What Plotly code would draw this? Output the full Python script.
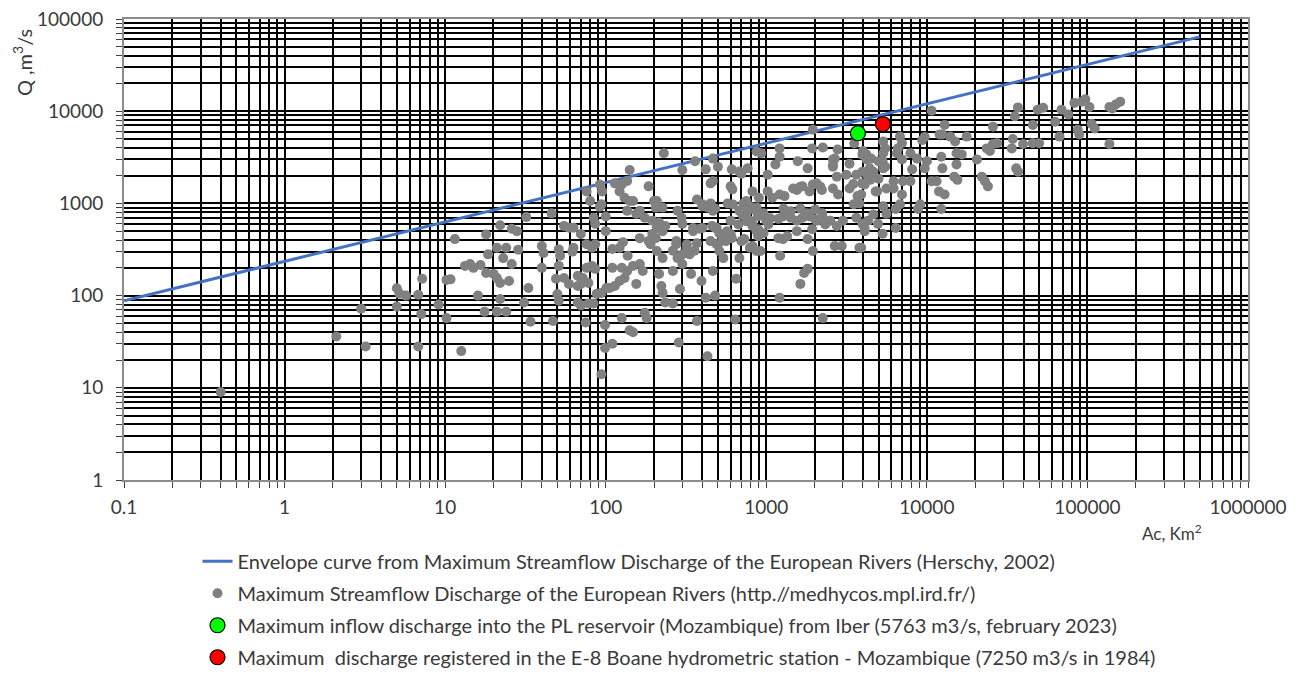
import plotly.graph_objects as go

# ---------------- data ----------------
# Envelope curve (Herschy, 2002): catchment area (km2) -> discharge (m3/s)
envelope_area = [0.1, 500000]
envelope_q = [88, 64000]

# Maximum streamflow discharge of the European rivers, (area km2, Q m3/s)
eu_below_10 = [
    (0.4, 9), (2.1, 36), (3.0, 72), (3.2, 28), (5.0, 120), (5.2, 105), (5.7, 100), (5.0, 76),
    (6.8, 102), (7.2, 152), (7.1, 63), (6.8, 28), (9.1, 80), (10.2, 148), (10.2, 57), (10.8, 150),
]
eu_10_100 = [
    (11.5, 410), (12.6, 25), (13.3, 210), (14.3, 220), (15, 200), (16.6, 215), (18, 460), (22, 580),
    (26, 530), (28, 500), (32, 710), (18.5, 280), (21, 330), (24, 330), (23, 255), (26, 220),
    (28.5, 315), (18, 176), (20, 172), (21, 155), (22, 137), (25, 144), (33, 121), (16, 100),
    (22, 92), (17.6, 67), (21, 67), (24, 67), (31, 84), (34, 52), (40, 345), (41, 290),
    (46, 780), (40, 200), (47, 53), (50, 104), (51, 88), (51, 317), (52, 270), (51, 210),
    (49, 152), (55, 155), (59, 134), (55, 570), (59, 545), (63, 545), (63, 330), (67, 164),
    (67, 127), (70, 134), (67, 84), (70, 78), (70, 465), (75, 51), (76, 1350), (80, 1060),
    (76, 360), (82, 330), (86, 360), (76, 200), (82, 210), (86, 195), (72, 155), (78, 137),
    (78, 82), (84, 82), (84, 700), (86, 600), (92, 1600), (95, 1350), (94, 980), (88, 105),
    (94, 107), (101, 121), (100, 500), (99, 48), (94, 14), (99, 27), (110, 30), (62, 300),
    (92, 920), (100, 720),
]
eu_100_1000 = [
    (114, 1650), (126, 1600), (136, 1750), (141, 2300), (122, 1350), (131, 1150), (141, 1060),
    (148, 1060), (163, 830), (175, 700), (110, 320), (122, 330), (110, 200), (126, 200),
    (137, 270), (148, 210), (163, 220), (170, 185), (122, 144), (131, 155), (106, 121),
    (114, 127), (155, 134), (126, 57), (141, 42), (148, 40), (175, 65), (180, 57), (185, 1530),
    (195, 465), (205, 420), (200, 1060), (205, 900), (136, 830), (155, 770), (128, 380),
    (163, 420), (185, 390), (208, 540), (226, 500), (275, 390), (320, 330), (350, 500),
    (136, 185), (215, 172), (262, 185), (300, 220),
    (230, 3500), (300, 2300), (360, 2860), (465, 3060), (420, 2340), (500, 2500), (450, 1650),
    (465, 1740), (610, 2340), (680, 2220), (765, 2400), (600, 1530), (615, 1420), (870, 3650),
    (930, 3500), (820, 1350), (900, 1150), (750, 1060), (765, 830), (680, 830), (710, 750),
    (370, 1100), (400, 980), (435, 900), (465, 830), (208, 1060), (226, 900), (195, 650),
    (215, 620), (235, 570), (280, 830), (297, 700), (300, 600), (350, 540), (385, 530),
    (460, 570), (490, 545), (600, 650), (570, 500), (750, 720), (790, 650), (820, 600),
    (870, 900), (930, 770), (870, 500), (890, 440), (190, 360), (208, 305), (226, 255),
    (262, 306), (280, 255), (300, 280), (333, 280), (358, 306), (275, 360), (320, 360),
    (370, 370), (490, 360), (535, 420), (600, 465), (510, 305), (680, 255), (730, 410),
    (790, 330), (870, 305), (222, 127), (226, 107), (235, 84), (262, 82), (290, 118),
    (340, 172), (395, 144), (465, 185), (420, 95), (480, 100), (650, 152), (370, 53),
    (640, 55), (285, 31), (430, 22),
    (700, 2100), (400, 930), (450, 1000), (480, 880), (575, 1000), (620, 975), (720, 1000),
    (790, 930), (870, 820), (890, 725), (960, 780), (400, 540), (480, 540), (510, 475),
    (670, 590), (750, 640), (820, 570), (890, 525), (960, 475), (450, 390), (500, 360),
    (560, 390), (610, 420), (700, 390), (820, 345), (920, 305), (540, 255),
]
eu_1000_10000 = [
    (1210, 3950), (1210, 3200), (1140, 2650), (1020, 2050), (1570, 2860), (1810, 2400),
    (1950, 6300), (1930, 3950), (2250, 4040), (2670, 3060), (2780, 3850), (2600, 2500),
    (2750, 1950), (3300, 2700), (3530, 4470), (3970, 3380), (3640, 2050), (1020, 1350),
    (1090, 1150), (1210, 1250), (1300, 1200), (1550, 1400), (1680, 1530), (1860, 1350),
    (2060, 1650), (2220, 1400), (2600, 1450), (2800, 1250), (3300, 1450), (3700, 1200),
    (3500, 980), (3800, 1000), (1000, 650), (1190, 680), (1270, 720), (1420, 700),
    (1550, 650), (1680, 700), (1860, 720), (2060, 650), (2250, 700), (2500, 650), (2750, 570),
    (3000, 650), (3640, 700), (3970, 600), (4300, 650), (1190, 420), (1270, 410), (1550, 500),
    (1810, 410), (1950, 305), (2670, 345), (2950, 345), (3800, 330), (4100, 500), (1210, 95),
    (1630, 134), (1720, 176), (1810, 195), (2250, 57),
    (1470, 1450), (1630, 1520), (1950, 1600), (2170, 1520), (1060, 690), (1280, 880),
    (1420, 820), (1630, 880), (1800, 780), (2020, 860), (2230, 780), (1030, 590), (1350, 440),
    (1930, 525), (2020, 670), (2330, 590), (1220, 270),
    (2600, 3000), (2600, 2600), (3150, 2050), (4000, 3700), (4200, 3400), (4500, 3060),
    (4250, 2050), (4640, 2200), (3480, 1620), (3950, 1650), (4440, 1800), (5500, 3950),
    (5300, 2860), (5350, 2400), (4900, 1350), (5600, 1450),
    (9700, 5240), (9350, 4860), (9100, 980), (8800, 870), (9700, 2400), (10000, 2860),
    (8100, 2340), (7900, 3500), (8700, 3060), (6800, 5300), (7000, 4500), (6600, 3950),
    (6500, 3500), (7000, 3000), (6200, 1740), (7100, 1740), (7900, 1740), (6200, 1450),
    (7000, 1250), (6800, 980), (6400, 870), (5350, 4700), (5350, 3500), (5000, 2860),
    (5500, 2500), (5000, 1850), (4800, 1350), (5350, 930), (5600, 770), (4640, 760),
    (4960, 600), (5300, 470), (6400, 540), (4200, 3000), (4400, 2400), (3970, 2200),
    (4100, 1600), (3900, 1250), (4100, 530), (3900, 330),
]
eu_above_10000 = [
    (10700, 10100), (12900, 7100), (12500, 5600), (14000, 5300), (15000, 4700), (12000, 5600),
    (17700, 5300), (25800, 6800), (35300, 8800), (36900, 11000), (45700, 7100), (49000, 10400),
    (53000, 10900), (63000, 7700), (67000, 5300), (69000, 10400), (76000, 9200), (83000, 12300),
    (92000, 12700), (87000, 6300), (89000, 5600), (97000, 13500), (103000, 11100),
    (106000, 7300), (111000, 6500), (137000, 4400), (137000, 11100), (150000, 11800),
    (160000, 12700), (143000, 10700), (25800, 4400), (23600, 3950), (27400, 4500),
    (24700, 3700), (34300, 5000), (33800, 3950), (39700, 4400), (45700, 4500), (50000, 4500),
    (36000, 2400), (37000, 2200), (20500, 3000), (15300, 3500), (16500, 3400), (15300, 2650),
    (14800, 1950), (15500, 1800), (22000, 1950), (23000, 1740), (24000, 1530), (12300, 3200),
    (12500, 2400), (11500, 1740), (11900, 1350), (12900, 1250), (12300, 870), (10700, 1740),
]

# PL reservoir (Iber) and E-8 Boane station
iber_area = [3720]
iber_q = [5763]
boane_area = [5320]
boane_q = [7250]

# tick labels
x_tick_labels = ["0.1", "1", "10", "100", "1000", "10000", "100000", "1000000"]
y_tick_labels = ["1", "10", "100", "1000", "10000", "100000"]

# ---------------- build ----------------
eu_points = eu_below_10 + eu_10_100 + eu_100_1000 + eu_1000_10000 + eu_above_10000
eu_area = [p[0] for p in eu_points]
eu_q = [p[1] for p in eu_points]


def log_ticks(labels):
    vals, texts = [], []
    for i, lab in enumerate(labels):
        base = float(lab)
        vals.append(base)
        texts.append(lab)
        if i < len(labels) - 1:
            for d in range(2, 10):
                vals.append(base * d)
                texts.append("")
    return vals, texts


xv, xt = log_ticks(x_tick_labels)
yv, yt = log_ticks(y_tick_labels)

FONT = "Lato, 'Open Sans', sans-serif"
TXT = "#3a3a3a"

fig = go.Figure()
fig.add_trace(go.Scatter(
    x=envelope_area, y=envelope_q, mode="lines",
    line=dict(color="#4472C4", width=3),
    name="Envelope curve from Maximum Streamflow Discharge of the European Rivers (Herschy, 2002)",
    legendgroup="a",
))
fig.add_trace(go.Scatter(
    x=eu_area, y=eu_q, mode="markers",
    marker=dict(color="#808080", size=10, line=dict(width=0)),
    name="Maximum Streamflow Discharge of the European Rivers (http.//medhycos.mpl.ird.fr/)",
    legendgroup="b",
))
fig.add_trace(go.Scatter(
    x=iber_area, y=iber_q, mode="markers",
    marker=dict(color="#00FF00", size=15, line=dict(color="black", width=1.2)),
    name="Maximum inflow discharge into the PL reservoir (Mozambique) from Iber (5763 m3/s, february 2023)",
    legendgroup="c",
))
fig.add_trace(go.Scatter(
    x=boane_area, y=boane_q, mode="markers",
    marker=dict(color="#FF0000", size=15, line=dict(color="black", width=1.2)),
    name="Maximum  discharge registered in the E-8 Boane hydrometric station - Mozambique (7250 m3/s in 1984)",
    legendgroup="d",
))

axis_common = dict(
    showgrid=True, gridcolor="black", gridwidth=1.5,
    showline=True, linecolor="#8c8c8c", linewidth=2, mirror=True,
    ticks="outside", ticklen=6, tickcolor="#404040", tickwidth=1,
    tickfont=dict(family=FONT, size=19, color=TXT),
    ticklabeloverflow="allow",
    zeroline=False, automargin=False,
)
fig.update_xaxes(type="log", range=[-1, 6], tickmode="array", tickvals=xv, ticktext=xt,
                 ticklabelstandoff=3, **axis_common)
fig.update_yaxes(type="log", range=[0, 5], tickmode="array", tickvals=yv, ticktext=yt,
                 ticklabelstandoff=9, **axis_common)

fig.add_annotation(text="Q ,m<sup>3</sup>/s", xref="paper", yref="paper", x=-0.0905, y=0.905,
                   textangle=-90, showarrow=False, xanchor="center", yanchor="middle",
                   font=dict(family=FONT, size=20, color=TXT))
fig.add_annotation(text="Ac, Km<sup>2</sup>", xref="paper", yref="paper", x=0.9324, y=-0.1145,
                   showarrow=False, xanchor="center", yanchor="middle",
                   font=dict(family=FONT, size=17, color=TXT))

# the page adds an 8 px body margin; margins below compensate so the plot
# area lands where the reference shows it in the 1300x677 window
fig.update_layout(
    width=1300, height=677,
    margin=dict(l=116, r=60, t=11, b=205, autoexpand=False),
    paper_bgcolor="white", plot_bgcolor="white",
    font=dict(family=FONT, size=19, color=TXT),
    showlegend=True,
    legend=dict(x=0.0654, y=-0.134, xanchor="left", yanchor="top",
                orientation="v", traceorder="grouped", tracegroupgap=3,
                font=dict(family=FONT, size=20, color=TXT),
                bgcolor="rgba(0,0,0,0)"),
)

fig.write_html("out.html")
